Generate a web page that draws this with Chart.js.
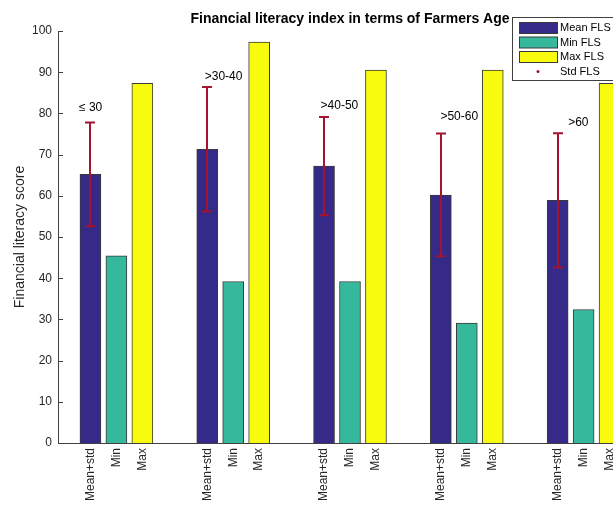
<!DOCTYPE html>
<html lang="en">
<head>
<meta charset="UTF-8" />
<title>Financial literacy index in terms of Farmers Age</title>
<script src="https://cdn.jsdelivr.net/npm/chart.js"></script>
<style>
  body { margin: 0; background: #fff; overflow: hidden; }
  #wrap { width: 613px; height: 505px; overflow: hidden; }
</style>
</head>
<body>
<div id="wrap"><canvas id="chart" width="650" height="505"></canvas></div>
<script>
  const ageGroups = ['≤ 30', '>30-40', '>40-50', '>50-60', '>60'];
  const barLabels = ['Mean+std', 'Min', 'Max'];
  const meanFLS = [65.2, 71.3, 67.2, 60.2, 58.9];
  const stdFLS = [12.6, 15.1, 11.9, 14.9, 16.3];
  const minFLS = [45.4, 39.2, 39.2, 29.1, 32.4];
  const maxFLS = [87.3, 97.3, 90.5, 90.5, 87.3];
  // where the age text sits (axis units, left edge / middle of text)
  const groupLabelX = [0.68, 1.756, 2.748, 3.774, 4.868];
  const groupLabelY = [81.3, 88.8, 81.8, 79.1, 77.7];

  const barOffset = 2 / 9;   // matlab grouped bar spacing
  const colors = ['#352A87', '#35B89B', '#F9FB0E'];
  const edge = '#3a3a3a';
  const axisColor = '#404040';
  const textColor = '#262626';

  Chart.defaults.font.family = 'Arial, "Liberation Sans", sans-serif';
  Chart.defaults.color = textColor;

  // x position of each bar: group centre plus offset
  const pos = (g, s) => g + 1 + (s - 1) * barOffset;
  const tickPos = [];
  const tickText = [];
  ageGroups.forEach((_, g) => barLabels.forEach((lab, s) => { tickPos.push(pos(g, s)); tickText.push(lab); }));

  const series = [meanFLS, minFLS, maxFLS];
  const names = ['Mean FLS', 'Min FLS', 'Max FLS'];

  const extras = {
    id: 'extras',
    afterDatasetsDraw(chart) {
      const { ctx, chartArea: a, scales: { x, y } } = chart;
      ctx.save();

      // matlab style ticks pointing inwards
      ctx.strokeStyle = axisColor;
      ctx.lineWidth = 1;
      y.ticks.forEach(t => {
        const py = Math.round(y.getPixelForValue(t.value)) + 0.5;
        ctx.beginPath();
        ctx.moveTo(a.left, py);
        ctx.lineTo(a.left + 5, py);
        ctx.stroke();
      });

      // std error bars on the mean bars
      ctx.strokeStyle = '#A2142F';
      ctx.lineWidth = 2;
      meanFLS.forEach((m, i) => {
        const px = Math.round(x.getPixelForValue(pos(i, 0)));
        const top = y.getPixelForValue(m + stdFLS[i]);
        const bot = y.getPixelForValue(m - stdFLS[i]);
        ctx.beginPath();
        ctx.moveTo(px, top); ctx.lineTo(px, bot);
        ctx.moveTo(px - 5, top); ctx.lineTo(px + 5, top);
        ctx.moveTo(px - 5, bot); ctx.lineTo(px + 5, bot);
        ctx.stroke();
      });

      // age group text
      ctx.fillStyle = '#000';
      ctx.font = '12px Arial, "Liberation Sans", sans-serif';
      ctx.textAlign = 'left';
      ctx.textBaseline = 'middle';
      ageGroups.forEach((lab, i) => {
        ctx.fillText(lab, x.getPixelForValue(groupLabelX[i]), y.getPixelForValue(groupLabelY[i]));
      });

      // title
      ctx.font = 'bold 14px Arial, "Liberation Sans", sans-serif';
      ctx.textAlign = 'center';
      ctx.fillText('Financial literacy index in terms of Farmers Age', (a.left + a.right) / 2, 19);

      // legend box
      const lx = 512.5, ly = 17.5;
      ctx.fillStyle = '#fff';
      ctx.fillRect(lx, ly, 140, 63);
      ctx.strokeStyle = axisColor;
      ctx.lineWidth = 1;
      ctx.strokeRect(lx, ly, 140, 63);
      ctx.font = '11px Arial, "Liberation Sans", sans-serif';
      ctx.textAlign = 'left';
      const rowY = [28, 42.5, 57, 71.5];
      names.forEach((n, i) => {
        ctx.fillStyle = colors[i];
        ctx.fillRect(519.5, rowY[i] - 5.5, 38, 11);
        ctx.strokeStyle = edge;
        ctx.strokeRect(519.5, rowY[i] - 5.5, 38, 11);
        ctx.fillStyle = '#000';
        ctx.fillText(n, 560, rowY[i]);
      });
      ctx.fillStyle = '#A2142F';
      ctx.beginPath();
      ctx.arc(538, rowY[3], 1.5, 0, Math.PI * 2);
      ctx.fill();
      ctx.fillStyle = '#000';
      ctx.fillText('Std FLS', 560, rowY[3]);

      ctx.restore();
    }
  };

  new Chart(document.getElementById('chart').getContext('2d'), {
    type: 'bar',
    data: {
      datasets: series.map((vals, s) => ({
        label: names[s],
        data: vals.map((v, g) => ({ x: pos(g, s), y: v })),
        backgroundColor: colors[s],
        borderColor: edge,
        borderWidth: 1,
        barThickness: 21,
        grouped: false
      }))
    },
    options: {
      responsive: false,
      animation: false,
      devicePixelRatio: 1,
      layout: { padding: { top: 31, right: 8, bottom: 0, left: 0 } },
      plugins: { legend: { display: false }, tooltip: { enabled: false } },
      scales: {
        x: {
          type: 'linear',
          min: 0.5,
          max: 5.5,
          offset: false,
          grid: { display: false, drawTicks: false },
          border: { color: axisColor },
          afterBuildTicks: s => { s.ticks = tickPos.map(v => ({ value: v })); },
          ticks: {
            autoSkip: false,
            minRotation: 90,
            maxRotation: 90,
            padding: 5,
            font: { size: 12 },
            callback: (v, i) => tickText[i]
          },
          afterFit: s => { s.height = 62; }
        },
        y: {
          min: 0,
          max: 100,
          grid: { display: false, drawTicks: false },
          border: { color: axisColor },
          ticks: { stepSize: 10, padding: 6, font: { size: 12 } },
          title: {
            display: true,
            text: 'Financial literacy score',
            font: { size: 14 },
            padding: { top: 12, bottom: 0 }
          },
          afterFit: s => { s.width = 58; }
        }
      }
    },
    plugins: [extras]
  });
</script>
</body>
</html>
